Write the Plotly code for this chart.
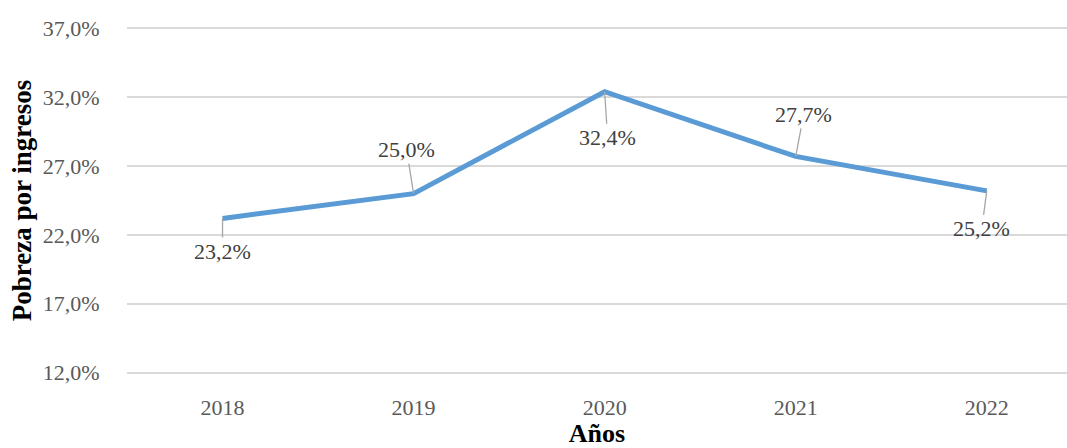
import plotly.graph_objects as go

years = ["2018", "2019", "2020", "2021", "2022"]
pobreza = [23.2, 25.0, 32.4, 27.7, 25.2]
labels = ["23,2%", "25,0%", "32,4%", "27,7%", "25,2%"]
# label offsets (pixels) from the point: (ax, ay)
label_dx = [0, -7, 3, 8, -5]
label_dy = [33, -44, 46, -42, 38]
y_ticks = [12, 17, 22, 27, 32, 37]
y_ticktext = ["12,0%", "17,0%", "22,0%", "27,0%", "32,0%", "37,0%"]

FONT = "Liberation Serif, Times New Roman, serif"
xpos = list(range(len(years)))

fig = go.Figure()
fig.add_trace(go.Scatter(
    x=xpos, y=pobreza, mode="lines",
    line=dict(color="#5B9BD5", width=5),
    hoverinfo="skip", showlegend=False,
))

annots = []
for xi, v, t, dx, dy in zip(xpos, pobreza, labels, label_dx, label_dy):
    annots.append(dict(
        x=xi, y=v, xref="x", yref="y", text=t, showarrow=True, arrowhead=0,
        arrowwidth=1.3, arrowcolor="#A6A6A6", ax=dx, ay=dy,
        font=dict(family=FONT, size=22, color="#404040"),
    ))

fig.update_layout(
    width=1067, height=448,
    margin=dict(l=127, r=0, t=27, b=74, autoexpand=False),
    paper_bgcolor="white", plot_bgcolor="white",
    font=dict(family=FONT, size=22, color="#595959"),
    annotations=annots,
    xaxis=dict(
        range=[-0.5, 4.42], tickvals=xpos, ticktext=years,
        showgrid=False, zeroline=False, showline=False,
        ticks="outside", ticklen=14, tickcolor="rgba(0,0,0,0)",
        tickfont=dict(family=FONT, size=22, color="#595959"),
        title=dict(text="<b>Años</b>", standoff=5,
                   font=dict(family=FONT, size=26, color="black")),
    ),
    yaxis=dict(
        range=[11.9, 37.1], tickvals=y_ticks, ticktext=y_ticktext,
        showgrid=True, gridcolor="#D9D9D9", gridwidth=1.5, zeroline=False,
        showline=False, ticks="outside", ticklen=22, tickcolor="rgba(0,0,0,0)",
        tickfont=dict(family=FONT, size=22, color="#595959"),
        title=dict(text="<b>Pobreza por ingresos</b>", standoff=3,
                   font=dict(family=FONT, size=27, color="black")),
    ),
)

fig.write_html(
    "out.html",
    config={"displayModeBar": False},
    post_script="document.body.style.margin='0';document.body.style.overflow='hidden';",
)
